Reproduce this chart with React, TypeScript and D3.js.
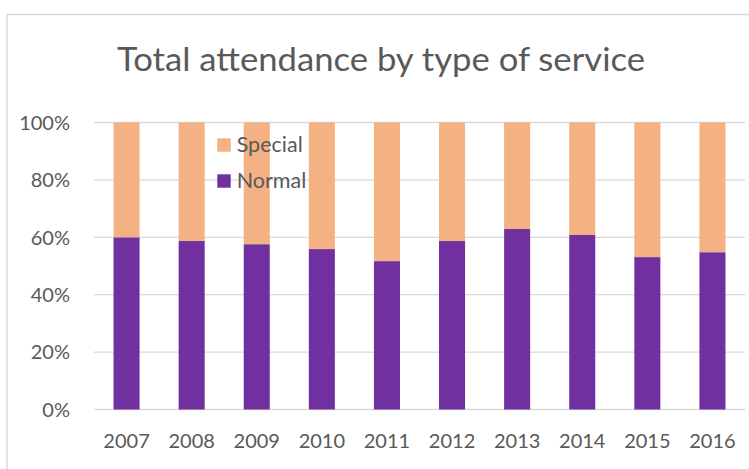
import React, { useEffect, useRef } from "react";
import * as d3 from "d3";

const years = ["2007", "2008", "2009", "2010", "2011", "2012", "2013", "2014", "2015", "2016"];
const normal = [60, 58.7, 57.6, 55.9, 51.7, 58.7, 62.9, 60.8, 53.1, 54.8];
const special = normal.map((v) => 100 - v);
const yTicks = [0, 20, 40, 60, 80, 100];
const seriesNames = ["Special", "Normal"];
const colors = { Normal: "#7030A0", Special: "#F4B183" };

const W = 749;
const H = 469;
const FONT = "Lato, Carlito, Calibri, 'Open Sans', sans-serif";

export default function App() {
  const ref = useRef<SVGSVGElement>(null);

  useEffect(() => {
    const svg = d3.select(ref.current);
    svg.selectAll("*").remove();

    const left = 94, right = 745, top = 122.5, bottom = 409.5;
    const x = d3.scaleBand<string>().domain(years).range([left, right]).paddingInner(0.6).paddingOuter(0.3);
    const y = d3.scaleLinear().domain([0, 100]).range([bottom, top]);

    svg.append("rect").attr("width", W).attr("height", H).attr("fill", "#fff");
    // chart border (cropped)
    svg.append("line").attr("x1", 7).attr("x2", W).attr("y1", 14.5).attr("y2", 14.5).attr("stroke", "#d9d9d9").attr("stroke-width", 1.5);
    svg.append("line").attr("x1", 7).attr("x2", 7).attr("y1", 14.5).attr("y2", H).attr("stroke", "#d9d9d9").attr("stroke-width", 1.5);

    svg.append("text")
      .attr("x", 117).attr("y", 71)
      .attr("textLength", 528).attr("lengthAdjust", "spacingAndGlyphs")
      .attr("font-family", FONT).attr("font-size", 32)
      .attr("fill", "#595959")
      .text("Total attendance by type of service");

    // gridlines
    svg.append("g").selectAll("line").data(yTicks).join("line")
      .attr("x1", left).attr("x2", right)
      .attr("y1", (d) => y(d)).attr("y2", (d) => y(d))
      .attr("stroke", "#d9d9d9").attr("stroke-width", 1.3);

    svg.append("g").selectAll("text").data(yTicks).join("text")
      .attr("x", 70).attr("y", (d) => y(d)).attr("dy", "0.36em")
      .attr("text-anchor", "end")
      .attr("font-family", FONT).attr("font-size", 20).attr("fill", "#595959")
      .text((d) => d + "%");

    svg.append("g").selectAll("text").data(years).join("text")
      .attr("x", (d) => x(d)! + x.bandwidth() / 2).attr("y", 448.3)
      .attr("text-anchor", "middle")
      .attr("font-family", FONT).attr("font-size", 20).attr("fill", "#595959")
      .text((d) => d);

    const g = svg.append("g");
    years.forEach((yr, i) => {
      g.append("rect")
        .attr("x", x(yr)!).attr("width", x.bandwidth())
        .attr("y", y(normal[i])).attr("height", y(0) - y(normal[i]))
        .attr("fill", colors.Normal);
      g.append("rect")
        .attr("x", x(yr)!).attr("width", x.bandwidth())
        .attr("y", y(normal[i] + special[i])).attr("height", y(normal[i]) - y(normal[i] + special[i]))
        .attr("fill", colors.Special);
    });

    // legend
    const lg = svg.append("g");
    seriesNames.forEach((s, i) => {
      const base = 151.7 + i * 36;
      lg.append("rect").attr("x", 217.3).attr("y", base - 13.4).attr("width", 13.4).attr("height", 13.4)
        .attr("fill", (colors as any)[s]);
      lg.append("text").attr("x", 236.7).attr("y", base)
        .attr("font-family", FONT).attr("font-size", 21.5).attr("fill", "#595959")
        .text(s);
    });
  }, []);

  return (
    <svg ref={ref} width={W} height={H} style={{ position: "absolute", left: 0, top: 0, display: "block" }} />
  );
}
